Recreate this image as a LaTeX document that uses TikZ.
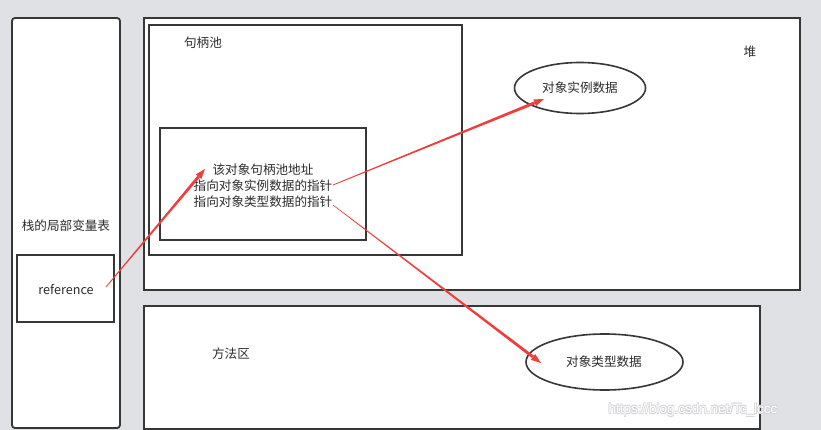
\documentclass[tikz,border=0pt]{standalone}
\usepackage{fontspec}
\setmainfont{Noto Sans CJK SC}
\newfontfamily\wmfont{Liberation Sans}
\usetikzlibrary{arrows.meta,shapes.geometric,calc}
\definecolor{bg}{RGB}{224,225,229}
\definecolor{edge}{RGB}{55,55,55}
\definecolor{arr}{RGB}{240,62,62}
\definecolor{txt}{RGB}{45,45,45}
\definecolor{wmshadow}{RGB}{212,212,216}
% tapered arrow: from, tip, start half-width, end half-width
\newcommand\taperarrow[4]{%
  \coordinate (tpbase) at ($(#2)!10pt!(#1)$);
  \fill[arr] ($(#1)!#3!90:(tpbase)$) -- ($(tpbase)!#4!-90:(#1)$) -- ($(tpbase)!#4!90:(#1)$) -- ($(#1)!#3!-90:(tpbase)$) -- cycle;
  \fill[arr] (#2) -- ($(tpbase)!3.6pt!90:(#2)$) -- ($(tpbase)!3.6pt!-90:(#2)$) -- cycle;
}
\begin{document}
\begin{tikzpicture}[x=1pt,y=-1pt,
  box/.style={draw=edge,line width=1.8pt,fill=white,inner sep=0pt},
  oval/.style={draw=edge,line width=1.6pt,ellipse,fill=white,inner sep=0pt},
  lbl/.style={text=txt,font=\fontsize{12.6pt}{15pt}\selectfont,inner sep=0pt},
  wm/.style={font=\wmfont\fontsize{13.5pt}{15pt}\selectfont,inner sep=0pt}]
\fill[bg] (0,0) rectangle (821,430);
\useasboundingbox (0,0) rectangle (821,430);
\begin{scope}
\clip (0,0) rectangle (821,430);
% stack
\node[box,rounded corners=3pt,minimum width=108pt,minimum height=410pt] (stack) at (66,223) {};
\node[lbl] (stacklbl) at (66,226) {栈的局部变量表};
\node[box,minimum width=97pt,minimum height=67pt] (ref) at (65.5,288.5) {};
\node[lbl] (reflbl) at (66,289) {reference};
% heap
\node[box,minimum width=656pt,minimum height=272pt] (heap) at (472,154) {};
\node[lbl] (heaplbl) at (750,52) {堆};
\node[box,minimum width=313pt,minimum height=230pt] (pool) at (305.5,140) {};
\node[lbl] (poollbl) at (203,43) {句柄池};
\node[box,minimum width=206pt,minimum height=112pt] (entry) at (263,184) {};
\node[lbl] (l1) at (263,170) {该对象句柄池地址};
\node[lbl] (l2) at (263,186) {指向对象实例数据的指针};
\node[lbl] (l3) at (263,201.5) {指向对象类型数据的指针};
\node[oval,minimum width=131pt,minimum height=51pt] (inst) at (580,88) {};
\node[lbl] (instlbl) at (580,88) {对象实例数据};
% method area
\node[box,minimum width=616pt,minimum height=123pt] (method) at (452,367.5) {};
\node[lbl] (methodlbl) at (231,354) {方法区};
\node[oval,minimum width=157pt,minimum height=56pt] (type) at (604.5,362) {};
\node[lbl] (typelbl) at (604,362) {对象类型数据};
% arrows
\coordinate (refout) at (106,287);
\coordinate (l1in) at (205,169);
\coordinate (l2out) at (333,185);
\coordinate (instin) at (544,99);
\coordinate (l3out) at (333,205);
\coordinate (typein) at (541,363);
\taperarrow{refout}{l1in}{0.4pt}{1.5pt}
\taperarrow{l2out}{instin}{0.4pt}{1.5pt}
\taperarrow{l3out}{typein}{0.3pt}{1.5pt}
% watermark
\foreach \dx/\dy in {0.6/0.6,-0.6/0.6,0.6/-0.6,-0.6/-0.6}
  \node[wm,text=wmshadow] at (693+\dx,410+\dy) {https://blog.csdn.net/Tc\_lccc};
\node[wm,text=white] (wmark) at (693,410) {https://blog.csdn.net/Tc\_lccc};
\end{scope}
\end{tikzpicture}
\end{document}
